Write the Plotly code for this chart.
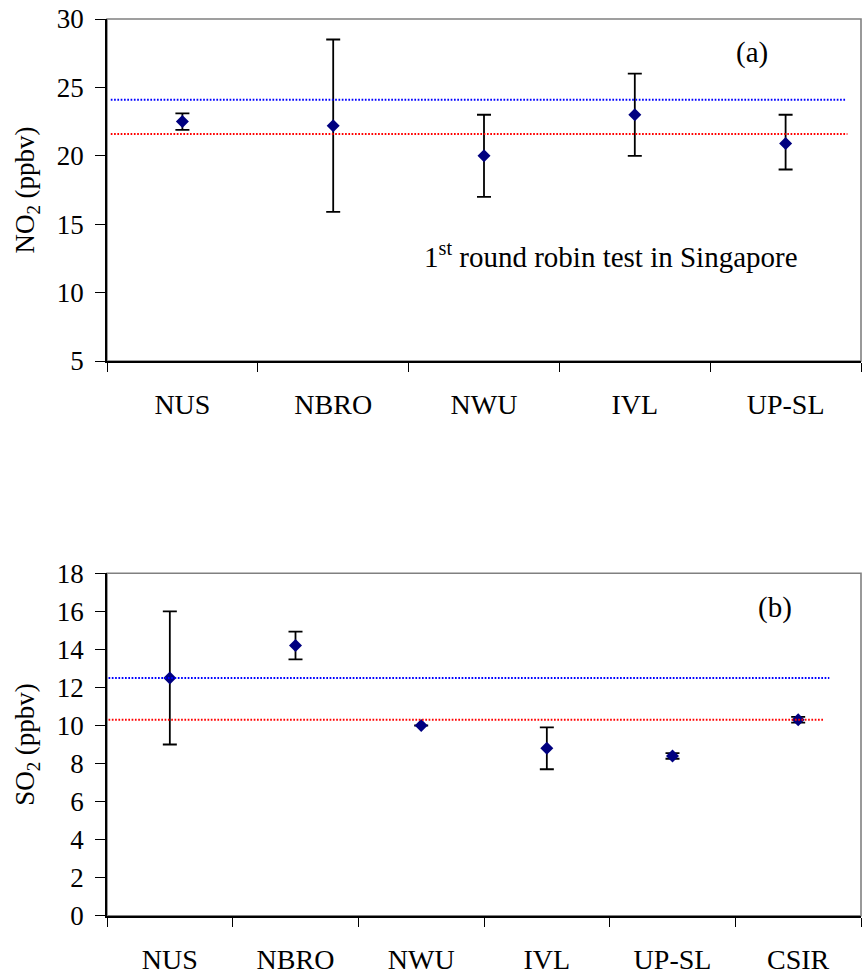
import plotly.graph_objects as go

# Panel (a) NO2
a_labels = ["NUS", "NBRO", "NWU", "IVL", "UP-SL"]
a_values = [22.5, 22.2, 20.0, 23.0, 20.9]
a_err_plus = [0.6, 6.3, 3.0, 3.0, 2.1]
a_err_minus = [0.6, 6.3, 3.0, 3.0, 1.9]
a_blue_ref = 24.1
a_red_ref = 21.6

# Panel (b) SO2
b_labels = ["NUS", "NBRO", "NWU", "IVL", "UP-SL", "CSIR"]
b_values = [12.5, 14.2, 10.0, 8.8, 8.4, 10.3]
b_err = [3.5, 0.73, 0.0, 1.1, 0.15, 0.15]
b_blue_ref = 12.5
b_red_ref = 10.3

FONT = "'Liberation Serif', 'Times New Roman', Times, 'DejaVu Serif', serif"
NAVY = "#000080"

fig = go.Figure()

fig.add_trace(go.Scatter(
    x=a_labels, y=a_values, mode="markers",
    marker=dict(symbol="diamond", size=10, color=NAVY),
    error_y=dict(type="data", symmetric=False, array=a_err_plus, arrayminus=a_err_minus,
                 color="black", thickness=1.8, width=7),
    xaxis="x", yaxis="y", showlegend=False))

fig.add_trace(go.Scatter(
    x=b_labels, y=b_values, mode="markers",
    marker=dict(symbol="diamond", size=10, color=NAVY),
    error_y=dict(type="data", array=b_err, color="black", thickness=1.8, width=7),
    xaxis="x2", yaxis="y2", showlegend=False))

W, H = 865, 976
xdom = [107 / W, 861 / W]
ydom_a = [1 - 361 / H, 1 - 19 / H]
ydom_b = [1 - 915.7 / H, 1 - 573.3 / H]

axis_common = dict(
    showline=True, linecolor="black", linewidth=1.6, mirror=False,
    ticks="outside", tickcolor="black", tickwidth=1.3,
    showgrid=False, zeroline=False, automargin=False,
)

xcommon = dict(axis_common, type="category", tickson="boundaries", ticklen=9,
               ticklabelstandoff=18, domain=xdom,
               tickfont=dict(family=FONT, size=28, color="black"))
ycommon = dict(axis_common, ticklen=10, ticklabelstandoff=6,
               tickfont=dict(family=FONT, size=27, color="black"))

fig.update_layout(
    width=W, height=H,
    margin=dict(l=0, r=0, t=0, b=0),
    paper_bgcolor="white", plot_bgcolor="white",
    font=dict(family=FONT, color="black"),
    xaxis=dict(xcommon, anchor="y", range=[-0.5, len(a_labels) - 0.5]),
    yaxis=dict(ycommon, anchor="x", domain=ydom_a, range=[5, 30], dtick=5,
               title=dict(text="NO<sub>2</sub> (ppbv)", standoff=14,
                          font=dict(family=FONT, size=27, color="black"))),
    xaxis2=dict(xcommon, anchor="y2", range=[-0.5, len(b_labels) - 0.5]),
    yaxis2=dict(ycommon, anchor="x2", domain=ydom_b, range=[0, 18], dtick=2,
                title=dict(text="SO<sub>2</sub> (ppbv)", standoff=14,
                           font=dict(family=FONT, size=27, color="black"))),
)

dotted = "1.7px,1.6px"
shapes = []
for xr, yr in (("x", "y"), ("x2", "y2")):
    shapes.append(dict(type="rect", xref=f"{xr} domain", yref=f"{yr} domain",
                       x0=0, x1=1, y0=0, y1=1, line=dict(color="#808080", width=1.6),
                       layer="below"))
shapes += [
    dict(type="line", xref="x domain", yref="y", x0=0.005, x1=0.98,
         y0=a_blue_ref, y1=a_blue_ref, line=dict(color="#0000FF", width=2, dash=dotted), layer="above"),
    dict(type="line", xref="x domain", yref="y", x0=0.005, x1=0.982,
         y0=a_red_ref, y1=a_red_ref, line=dict(color="#FF0000", width=2, dash=dotted), layer="above"),
    dict(type="line", xref="x2 domain", yref="y2", x0=0.002, x1=0.958,
         y0=b_blue_ref, y1=b_blue_ref, line=dict(color="#0000FF", width=2, dash=dotted), layer="above"),
    dict(type="line", xref="x2 domain", yref="y2", x0=0.002, x1=0.951,
         y0=b_red_ref, y1=b_red_ref, line=dict(color="#FF0000", width=2, dash=dotted), layer="above"),
]
fig.update_layout(shapes=shapes)

ann_font = dict(family=FONT, size=29, color="black")
fig.update_layout(annotations=[
    dict(text="(a)", xref="paper", yref="paper", x=752 / W, y=1 - 52 / H,
         showarrow=False, font=ann_font, xanchor="center", yanchor="middle"),
    dict(text="(b)", xref="paper", yref="paper", x=775 / W, y=1 - 607 / H,
         showarrow=False, font=ann_font, xanchor="center", yanchor="middle"),
    dict(text="1<sup>st</sup> round robin test in Singapore", xref="paper", yref="paper",
         x=611 / W, y=1 - 255 / H, showarrow=False, font=dict(ann_font, size=29),
         xanchor="center", yanchor="middle"),
])

fig.write_html("out.html")
